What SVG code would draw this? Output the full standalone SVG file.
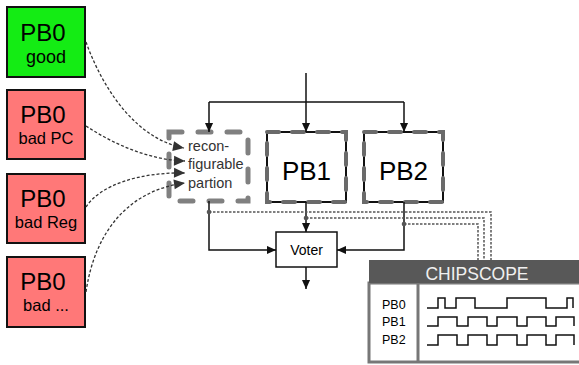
<svg xmlns="http://www.w3.org/2000/svg" width="579" height="365" viewBox="0 0 579 365">
<style>
text{font-family:"Liberation Sans",Arial,sans-serif;}
.pb0{stroke:#111;stroke-width:2}
.big{font-size:24px;fill:#000}
.sub{font-size:16.5px;fill:#000}
.flow{fill:none;stroke:#111;stroke-width:1.5}
.dcurve{fill:none;stroke:#333;stroke-width:1.3;stroke-dasharray:3 2}
.tap{fill:none;stroke:#555;stroke-width:1.5;stroke-dasharray:2.5 1.5}
.wave{fill:none;stroke:#111;stroke-width:1.5}
.rp{fill:#fff;stroke:#808080;stroke-width:5;stroke-dasharray:13 16;stroke-linecap:round}
.pbd{fill:none;stroke:#6a6a6a;stroke-width:4;stroke-dasharray:12 13;stroke-linecap:round}
</style>
<defs>
<marker id="arr" viewBox="0 0 10 10" refX="10" refY="5" markerWidth="9" markerHeight="9" markerUnits="userSpaceOnUse" orient="auto"><path d="M0,0.5 L10,5 L0,9.5 z" fill="#111"/></marker>
<marker id="darr" viewBox="0 0 10 10" refX="10" refY="5" markerWidth="12" markerHeight="11" markerUnits="userSpaceOnUse" orient="auto"><path d="M0,0.5 L10,5 L0,9.5 z" fill="#333"/></marker>
</defs>

<g id="pb0-good">
<rect class="pb0" x="7" y="7" width="78" height="70" fill="#14ec14"/>
<text class="big" x="43" y="41" text-anchor="middle">PB0</text>
<text x="46" y="63" text-anchor="middle" font-size="18">good</text>
</g>
<g id="pb0-badpc">
<rect class="pb0" x="7" y="90" width="78" height="69" fill="#ff7878"/>
<text class="big" x="43" y="123" text-anchor="middle">PB0</text>
<text class="sub" x="46" y="144" text-anchor="middle">bad PC</text>
</g>
<g id="pb0-badreg">
<rect class="pb0" x="7" y="174" width="78" height="69" fill="#ff7878"/>
<text class="big" x="43" y="207" text-anchor="middle">PB0</text>
<text class="sub" x="46" y="228" text-anchor="middle">bad Reg</text>
</g>
<g id="pb0-bad">
<rect class="pb0" x="7" y="257" width="78" height="70" fill="#ff7878"/>
<text class="big" x="43" y="290" text-anchor="middle">PB0</text>
<text class="sub" x="46" y="311" text-anchor="middle">bad ...</text>
</g>

<g id="reconfigurable">
<rect class="rp" x="169" y="132" width="79" height="69"/>
<text x="188" y="151" font-size="14.5" fill="#333">recon-</text>
<text x="188" y="169" font-size="14.5" fill="#333">figurable</text>
<text x="188" y="188" font-size="14.5" fill="#333">partion</text>
</g>

<g id="pb1">
<rect x="267" y="132" width="79" height="70" fill="#fff" stroke="#111" stroke-width="2"/>
<rect class="pbd" x="267" y="132" width="79" height="70"/>
<text x="306.5" y="180" text-anchor="middle" font-size="26">PB1</text>
</g>
<g id="pb2">
<rect x="364" y="132" width="79" height="70" fill="#fff" stroke="#111" stroke-width="2"/>
<rect class="pbd" x="364" y="132" width="79" height="70"/>
<text x="403.5" y="180" text-anchor="middle" font-size="26">PB2</text>
</g>

<g id="voter">
<rect x="276" y="232" width="61" height="35" fill="#fff" stroke="#111" stroke-width="1.5"/>
<text x="306.5" y="255" text-anchor="middle" font-size="14">Voter</text>
</g>

<g id="chipscope">
<rect x="369" y="283" width="215" height="79" fill="#fff" stroke="#777" stroke-width="3"/>
<rect x="369" y="260" width="215" height="23" fill="#585858"/>
<text x="477" y="280" text-anchor="middle" font-size="17.5" fill="#f0f0f0">CHIPSCOPE</text>
<line x1="418" y1="283" x2="418" y2="362" stroke="#777" stroke-width="3"/>
<text x="382" y="309" font-size="12.5">PB0</text>
<text x="382" y="326" font-size="12.5">PB1</text>
<text x="382" y="344" font-size="12.5">PB2</text>
<path class="wave" d="M427,308 H438 V298 H445 V308 H456 V298 H475 V308 H507 V298 H546 V308 H567 V298 H573 V308"/>
<path class="wave" d="M427,326 H438 V317 H457 V326 H468 V317 H487 V326 H497 V317 H517 V326 H527 V317 H546 V326 H556 V317 H574 V326"/>
<path class="wave" d="M427,345 H438 V335 H457 V345 H468 V335 H487 V345 H497 V335 H517 V345 H527 V335 H546 V345 H556 V335 H574 V345"/>
</g>

<g id="connectors">
<path class="dcurve" d="M86,42 C105,95 140,140 184,148" marker-end="url(#darr)"/>
<path class="dcurve" d="M86,126 C115,145 150,160 185,161" marker-end="url(#darr)"/>
<path class="dcurve" d="M86,207 C100,185 140,172 185,173" marker-end="url(#darr)"/>
<path class="dcurve" d="M86,292 C95,230 130,190 185,183" marker-end="url(#darr)"/>

<path class="flow" d="M306,73 V132" marker-end="url(#arr)"/>
<path class="flow" d="M209,102 H404"/>
<path class="flow" d="M209,102 V132" marker-end="url(#arr)"/>
<path class="flow" d="M404,102 V132" marker-end="url(#arr)"/>

<path class="flow" d="M209,201 V250 H276" marker-end="url(#arr)"/>
<path class="flow" d="M306,202 V232" marker-end="url(#arr)"/>
<path class="flow" d="M404,202 V250 H337" marker-end="url(#arr)"/>
<path class="flow" d="M306,267 V289" marker-end="url(#arr)"/>

<path class="tap" d="M209,212 H491 V260"/>
<path class="tap" d="M306,218 H484 V260"/>
<path class="tap" d="M404,224 H478 V260"/>
<circle cx="209" cy="212" r="2.3" fill="#555"/>
<circle cx="306" cy="218" r="2.3" fill="#555"/>
<circle cx="404" cy="224" r="2.3" fill="#555"/>
</g>
</svg>
